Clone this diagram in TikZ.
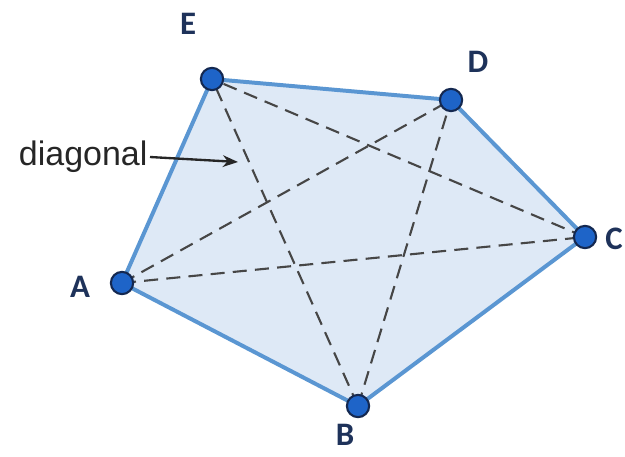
\documentclass[tikz,border=0pt]{standalone}
\usepackage{fontspec}
\setmainfont{Carlito}
\newfontfamily\arialfont{Liberation Sans}
\usetikzlibrary{arrows.meta,backgrounds}
\definecolor{vtxfill}{RGB}{30,100,200}
\definecolor{vtxdraw}{RGB}{20,40,80}
\definecolor{edgeblue}{RGB}{90,150,210}
\definecolor{facefill}{RGB}{222,233,246}
\definecolor{navytxt}{RGB}{30,50,90}
\definecolor{diaggray}{RGB}{70,70,70}
\tikzset{
  vertex/.style = {circle, draw=vtxdraw, fill=vtxfill, line width=1.8pt,
                   minimum size=19pt, inner sep=0pt},
  lbl/.style    = {text=navytxt, inner sep=1pt, font=\fontsize{28}{32}\selectfont\bfseries},
  side/.style   = {draw=edgeblue, line width=3.4pt, line join=round},
  diag/.style   = {draw=diaggray, line width=1.8pt, dash pattern=on 12pt off 7pt},
}

\begin{document}
\begin{tikzpicture}[x=0.03cm, y=-0.03cm]
\useasboundingbox (0,0) rectangle (625,457);
% vertices
\node[vertex] (E) at (212,79) {};
\node[vertex] (D) at (451,100) {};
\node[vertex] (C) at (585,237) {};
\node[vertex] (B) at (358,406) {};
\node[vertex] (A) at (122,283) {};
% vertex labels
\node[lbl] (labE) at (188,24) {E};
\node[lbl] (labD) at (478,62) {D};
\node[lbl] (labC) at (614,239) {C};
\node[lbl] (labA) at (80,287) {A};
\node[lbl] (labB) at (345,435) {B};
% face, sides and diagonals
\begin{scope}[on background layer]
  \path[fill=facefill] (A.center) -- (B.center) -- (C.center) -- (D.center) -- (E.center) -- cycle;
  \draw[diag] (A.center) -- (C.center);
  \draw[diag] (A.center) -- (D.center);
  \draw[diag] (B.center) -- (D.center);
  \draw[diag] (B.center) -- (E.center);
  \draw[diag] (C.center) -- (E.center);
  \draw[side] (A.center) -- (B.center) -- (C.center) -- (D.center) -- (E.center) -- cycle;
\end{scope}
% pointer
\coordinate (tip) at (238,162);
\node[text=black!85, font=\arialfont\fontsize{29}{32}\selectfont, anchor=east, inner sep=2pt] (dg) at (150,157) {diagonal};
\draw[-{Stealth[length=13pt,width=10pt]}, line width=2pt, black!85] (dg.east) -- (tip);
\end{tikzpicture}
\end{document}
